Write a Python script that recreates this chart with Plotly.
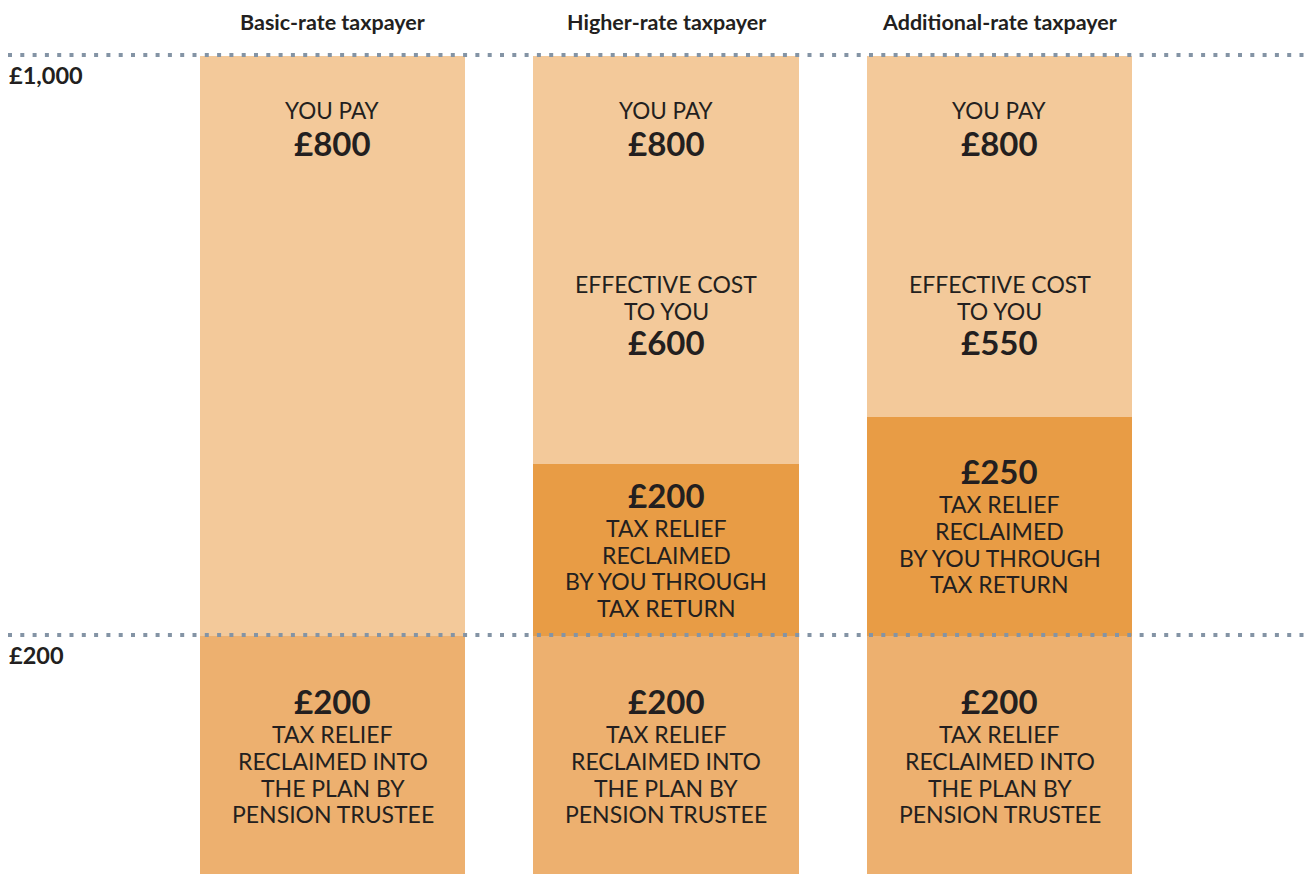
import plotly.graph_objects as go

# ---- data ----
categories = ["Basic-rate taxpayer", "Higher-rate taxpayer", "Additional-rate taxpayer"]
you_pay = [800, 800, 800]                 # £ you pay
pension_relief = [200, 200, 200]          # £ reclaimed into the plan by pension trustee
own_relief = [None, 200, 250]             # £ reclaimed by you through tax return
effective_cost = [None, 600, 550]         # £ effective cost to you

# drawn band heights, % of the full bar (the illustration is not to scale)
band_pension = [29.1, 29.1, 29.1]
band_own = [0.0, 21.0, 26.8]
band_rest = [70.9, 49.9, 44.1]

tick_vals = [29.1, 100]
tick_text = ["£200", "£1,000"]

# ---- style ----
C_LIGHT = "#F3C99A"
C_MID = "#EDB06F"
C_DARK = "#E89C45"
C_TEXT = "#231F20"
C_DOT = "#8494A5"
FONT = "Lato"
OFF = 8                    # page body margin
W, H = 1314 - OFF, 874 - OFF
PX = 8.18                  # pixels per unit on y
STEP = 333.5               # pixels between bar centres
C0 = 332.5 - OFF           # first bar centre in figure pixels

fig = go.Figure()
for vals, col in [(band_pension, C_MID), (band_own, C_DARK), (band_rest, C_LIGHT)]:
    fig.add_trace(go.Bar(x=categories, y=vals, marker=dict(color=col, line=dict(width=0)),
                         width=0.795, hoverinfo="skip"))

ann = []

def line(x, y, text, size, bold, yshift, yref="y"):
    ann.append(dict(x=x, y=y, xref="x", yref=yref, text=("<b>%s</b>" % text) if bold else text,
                    showarrow=False, xanchor="center", yanchor="middle", yshift=yshift,
                    font=dict(family=FONT, size=size, color=C_TEXT)))

BODY = 23
VAL = 33
HEAD = 21.5

for i, cat in enumerate(categories):
    line(cat, 1, cat, HEAD, True, -14, yref="paper")
    top = band_pension[i] + band_own[i] + band_rest[i]
    line(cat, top, "YOU PAY", 22.5, False, -54.5)
    line(cat, top, "£%d" % you_pay[i], VAL, True, -87)
    if effective_cost[i] is not None:
        line(cat, top, "EFFECTIVE COST", BODY, False, -228)
        line(cat, top, "TO YOU", BODY, False, -254.5)
        line(cat, top, "£%d" % effective_cost[i], VAL, True, -286)
    if own_relief[i] is not None:
        mid = band_pension[i] + band_own[i] / 2
        line(cat, mid, "£%d" % own_relief[i], VAL, True, 55.5)
        for t, off in zip(["TAX RELIEF", "RECLAIMED", "BY YOU THROUGH", "TAX RETURN"], [-22, 4.7, 31.4, 58]):
            line(cat, mid, t, BODY, False, -off)
    mid = band_pension[i] / 2
    line(cat, mid, "£%d" % pension_relief[i], VAL, True, 53.5)
    for t, off in zip(["TAX RELIEF", "RECLAIMED INTO", "THE PLAN BY", "PENSION TRUSTEE"], [-20.5, 6.5, 33, 59.5]):
        line(cat, mid, t, BODY, False, -off)

shapes = []
for v, t in zip(tick_vals, tick_text):
    ann.append(dict(x=0, xref="paper", y=v, yref="y", text="<b>%s</b>" % t, showarrow=False,
                    xanchor="left", yanchor="middle", xshift=-1, yshift=-19,
                    font=dict(family=FONT, size=23.5, color=C_TEXT)))
    shapes.append(dict(type="line", xref="paper", yref="y", x0=0, x1=1, y0=v + 0.12, y1=v + 0.12,
                       line=dict(color=C_DOT, width=4, dash="4px,8.3px"), layer="above"))

fig.update_layout(
    width=W, height=H, margin=dict(l=0, r=0, t=0, b=0),
    paper_bgcolor="white", plot_bgcolor="white",
    barmode="stack", showlegend=False, bargap=0,
    xaxis=dict(range=[-C0 / STEP, (W - C0) / STEP], visible=False, fixedrange=True),
    yaxis=dict(range=[0, H / PX], visible=False, fixedrange=True),
    annotations=ann, shapes=shapes,
)

fig.write_html("out.html")
